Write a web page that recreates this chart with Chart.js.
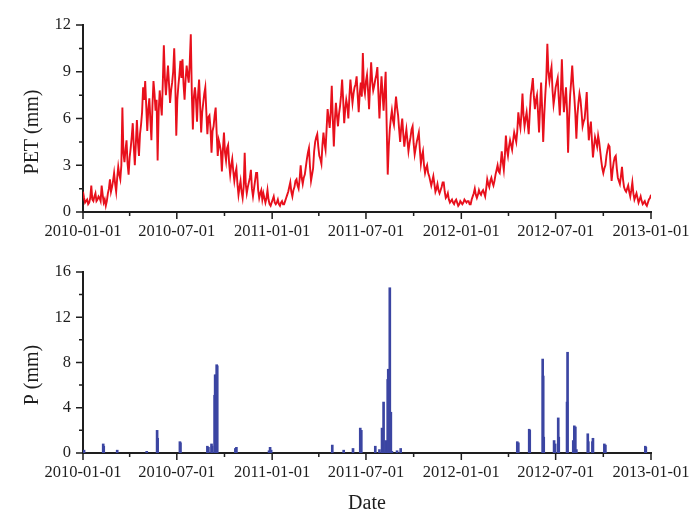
<!DOCTYPE html>
<html>
<head>
<meta charset="utf-8">
<script src="https://cdn.jsdelivr.net/npm/chart.js@4.4.1/dist/chart.umd.min.js"></script>
<style>
  html, body { margin: 0; padding: 0; background: #ffffff; }
  #wrap { position: relative; width: 694px; height: 516px; }
  #petBox { position: absolute; left: 0; top: 0; width: 694px; height: 250px; }
  #pBox { position: absolute; left: 0; top: 250px; width: 694px; height: 266px; }
</style>
</head>
<body>
<div id="wrap">
  <div id="petBox"><canvas id="petChart" width="694" height="250"></canvas></div>
  <div id="pBox"><canvas id="pChart" width="694" height="266"></canvas></div>
</div>
<script>
// ---- data -------------------------------------------------------------
const startDate = '2010-01-01';
const petStepDays = 2;          // PET sampled every 2 days from startDate
const petValues = [
  1.3, 0.9, 0.6, 0.7, 0.8, 0.5, 0.6, 0.9, 1.7, 0.8,
  0.7, 1.0, 1.2, 0.7, 0.8, 1.0, 0.9, 0.7, 1.7, 1.1,
  0.6, 0.8, 0.4, 0.7, 1.2, 1.5, 2.1, 1.3, 1.6, 2.0,
  2.5, 1.8, 1.3, 2.2, 2.9, 2.4, 2.1, 3.0, 6.7, 3.8,
  3.2, 4.0, 4.6, 3.1, 2.4, 3.5, 4.1, 4.8, 5.7, 4.2,
  3.0, 4.4, 5.9, 4.5, 3.6, 5.0, 5.6, 6.4, 8.0, 7.2,
  8.4, 6.8, 5.2, 6.6, 7.3, 5.9, 4.6, 6.8, 8.4, 7.6,
  6.5, 7.2, 3.3, 6.4, 7.8, 7.0, 6.2, 8.3, 10.7, 8.6,
  7.5, 8.5, 9.4, 8.2, 7.0, 7.8, 8.3, 9.0, 10.5, 8.4,
  4.9, 7.2, 8.1, 8.8, 9.7, 8.6, 9.8, 8.2, 7.2, 8.5,
  9.4, 8.8, 8.3, 9.6, 11.4, 7.6, 5.3, 7.4, 8.0, 7.2,
  5.8, 7.5, 8.5, 6.9, 5.1, 6.4, 7.0, 7.6, 8.0, 6.4,
  5.0, 6.1, 6.2, 5.4, 3.8, 5.2, 5.5, 6.2, 6.7, 5.0,
  3.6, 4.6, 4.3, 3.9, 2.6, 4.0, 5.1, 3.8, 3.3, 4.1,
  4.3, 3.1, 2.4, 3.0, 3.4, 2.6, 2.0, 2.5, 2.8, 1.8,
  1.1, 1.6, 2.0, 1.3, 0.9, 1.6, 3.8, 1.8, 1.2, 1.6,
  1.9, 2.2, 2.7, 1.5, 1.0, 1.5, 2.0, 2.5, 2.5, 1.4,
  0.9, 1.2, 1.4, 0.8, 1.2, 0.9, 0.6, 0.9, 1.4, 0.8,
  0.5, 0.4, 0.6, 0.8, 1.0, 0.6, 0.5, 0.6, 0.8, 0.5,
  0.4, 0.6, 0.7, 0.5, 0.5, 0.7, 0.9, 1.1, 1.3, 1.6,
  1.9, 1.3, 1.0, 1.4, 1.6, 2.0, 2.1, 1.7, 1.5, 2.1,
  3.0, 2.2, 1.8, 2.2, 2.4, 2.9, 3.4, 3.8, 4.1, 2.9,
  2.0, 2.4, 2.8, 3.9, 4.5, 4.8, 5.0, 4.2, 3.6, 3.4,
  3.1, 4.3, 5.1, 4.4, 4.0, 5.3, 6.6, 6.0, 5.4, 6.4,
  8.1, 6.0, 4.2, 5.9, 7.0, 6.2, 5.5, 6.3, 6.8, 7.5,
  8.5, 7.2, 5.7, 6.6, 7.2, 6.8, 6.0, 7.4, 8.5, 7.7,
  7.0, 7.6, 8.0, 8.2, 8.7, 7.5, 6.4, 7.6, 8.3, 7.4,
  10.2, 8.0, 7.6, 8.4, 8.8, 7.8, 6.6, 8.2, 9.6, 8.4,
  7.8, 8.1, 8.5, 8.8, 9.3, 7.6, 6.0, 7.5, 8.7, 7.6,
  6.5, 7.8, 9.0, 5.5, 2.4, 4.2, 5.3, 6.0, 6.5, 5.9,
  5.6, 6.6, 7.4, 6.7, 6.2, 5.3, 4.5, 5.4, 6.0, 5.0,
  4.2, 4.8, 5.3, 4.6, 3.9, 4.4, 4.8, 5.3, 5.5, 4.4,
  3.7, 4.1, 4.5, 4.8, 5.1, 4.0, 3.1, 3.6, 3.9, 3.0,
  2.5, 2.8, 3.0, 2.5, 2.3, 2.0, 1.7, 2.0, 2.3, 1.8,
  1.3, 1.5, 1.8, 1.4, 1.2, 1.4, 1.6, 1.9, 1.9, 1.3,
  0.9, 1.0, 1.2, 0.8, 0.6, 0.7, 0.8, 0.6, 0.5, 0.7,
  0.8, 0.6, 0.4, 0.5, 0.7, 0.6, 0.5, 0.6, 0.8, 0.7,
  0.6, 0.7, 0.7, 0.5, 0.5, 0.8, 1.0, 1.2, 1.5, 1.1,
  0.9, 1.1, 1.4, 1.2, 1.1, 1.3, 1.4, 1.2, 1.0, 1.5,
  2.1, 1.8, 1.6, 2.0, 2.2, 1.9, 1.7, 2.0, 2.4, 2.7,
  3.0, 2.6, 2.5, 3.1, 3.9, 3.2, 2.7, 3.6, 4.9, 4.0,
  3.6, 4.2, 4.6, 4.3, 4.0, 4.6, 5.1, 4.8, 4.5, 5.2,
  6.4, 5.8, 5.4, 6.3, 7.6, 6.2, 5.5, 6.0, 6.4, 5.7,
  5.0, 6.3, 7.5, 8.0, 8.6, 7.4, 6.6, 7.2, 7.5, 6.4,
  5.1, 6.8, 8.3, 6.6, 4.5, 6.2, 7.5, 8.6, 10.8, 9.0,
  8.4, 8.9, 9.3, 7.8, 6.9, 7.4, 8.0, 8.3, 8.6, 7.3,
  6.2, 7.6, 9.8, 7.8, 6.4, 7.2, 8.0, 6.5, 3.8, 6.0,
  7.5, 8.4, 9.4, 8.2, 7.4, 6.3, 4.7, 6.2, 7.0, 7.6,
  7.2, 6.4, 5.5, 5.8, 6.0, 6.8, 7.7, 5.9, 4.6, 5.3,
  5.8, 4.6, 3.5, 4.2, 4.8, 4.5, 4.2, 4.9, 4.5, 3.9,
  3.3, 2.8, 2.5, 2.8, 3.0, 3.6, 4.0, 4.3, 4.2, 3.0,
  2.0, 2.7, 3.2, 3.5, 3.6, 2.8, 2.2, 2.0, 1.8, 2.3,
  2.9, 2.1, 1.6, 1.4, 1.3, 1.5, 1.7, 1.3, 1.0, 1.4,
  1.9, 1.2, 0.8, 1.0, 1.2, 0.9, 0.6, 0.8, 1.0, 0.7,
  0.5, 0.6, 0.7, 0.5, 0.4, 0.6, 0.8, 0.9, 1.1
];

// precipitation events: day offset from startDate and depth (mm)
const pDays = [
  2, 39, 40, 66, 123, 143, 144, 187, 188, 240, 242, 248, 249, 254, 255, 256, 258, 259, 294, 296,
  359, 361, 363, 481, 503, 521, 535, 537, 564, 572, 577, 580, 584, 588, 589, 592, 594, 596, 606, 613,
  838, 840, 861, 862, 887, 888, 889, 909, 911, 917, 918, 934, 935, 946, 948, 950, 952, 974, 975, 983,
  984, 1006, 1008, 1085, 1086
];
const pValues = [
  0.25, 0.8, 0.6, 0.25, 0.15, 2.0, 1.3, 1.0, 0.9, 0.6, 0.5, 0.8, 0.6, 5.1, 6.9, 6.9, 7.8, 7.7, 0.4, 0.5,
  0.2, 0.5, 0.25, 0.7, 0.25, 0.4, 2.2, 2.0, 0.6, 0.3, 2.2, 4.5, 1.1, 6.5, 7.4, 14.6, 3.6, 0.15, 0.2, 0.4,
  1.0, 0.9, 2.1, 2.0, 8.3, 6.8, 1.4, 1.1, 0.8, 3.1, 1.4, 4.5, 8.9, 1.1, 2.4, 2.3, 0.3, 1.7, 1.0, 1.0,
  1.3, 0.8, 0.7, 0.6, 0.5
];

// date axis: labelled ticks and quarter-year minor ticks
const dateLabels = ['2010-01-01', '2010-07-01', '2011-01-01', '2011-07-01', '2012-01-01', '2012-07-01', '2013-01-01'];
const dateMinor = ['2010-04-01', '2010-10-01', '2011-04-01', '2011-10-01', '2012-04-01', '2012-10-01'];

const petTicks = [0, 3, 6, 9, 12];
const petMinor = [1.5, 4.5, 7.5, 10.5];
const pTicks = [0, 4, 8, 12, 16];
const pMinor = [2, 6, 10, 14];

// ---- helpers ----------------------------------------------------------
const INK = '#1e1e1e';
const SERIF = "'Liberation Serif', 'Times New Roman', serif";

function dayOf(str) {
  const [y, m, d] = str.split('-').map(Number);
  const [y0, m0, d0] = startDate.split('-').map(Number);
  return Math.round((Date.UTC(y, m - 1, d) - Date.UTC(y0, m0 - 1, d0)) / 86400000);
}
const labelDays = dateLabels.map(dayOf);
const minorDays = dateMinor.map(dayOf);
const labelByDay = {};
labelDays.forEach((d, i) => { labelByDay[d] = dateLabels[i]; });
const dayMax = labelDays[labelDays.length - 1];

const petPoints = petValues.map((v, i) => ({ x: i * petStepDays, y: v }));
const pPoints = pDays.map((d, i) => ({ x: d, y: pValues[i] }));

// outward tick marks (long at labels, short in between) and rotated y title
const axisMarks = {
  id: 'axisMarks',
  afterDraw(chart, args, o) {
    const { ctx, scales: { x, y } } = chart;
    const yb = y.getPixelForValue(0);
    const xl = x.getPixelForValue(0);
    ctx.save();
    ctx.strokeStyle = INK;
    ctx.lineWidth = 1.5;
    ctx.beginPath();
    labelDays.forEach(d => { const px = x.getPixelForValue(d); ctx.moveTo(px, yb); ctx.lineTo(px, yb + 7); });
    minorDays.forEach(d => { const px = x.getPixelForValue(d); ctx.moveTo(px, yb); ctx.lineTo(px, yb + 4); });
    o.major.forEach(v => { const py = y.getPixelForValue(v); ctx.moveTo(xl, py); ctx.lineTo(xl - 7, py); });
    o.minor.forEach(v => { const py = y.getPixelForValue(v); ctx.moveTo(xl, py); ctx.lineTo(xl - 4, py); });
    ctx.stroke();
    ctx.fillStyle = INK;
    ctx.font = '20px ' + SERIF;
    ctx.textAlign = 'center';
    ctx.textBaseline = 'middle';
    ctx.translate(o.titleX, o.titleY);
    ctx.rotate(-Math.PI / 2);
    ctx.fillText(o.title, 0, 0);
    ctx.restore();
  }
};

function baseScales(yMax, yStep, xHeight, xTitle) {
  return {
    x: {
      type: 'linear',
      min: 0,
      max: dayMax,
      offset: false,
      grid: { display: false, drawTicks: false, offset: false },
      border: { display: true, color: INK, width: 2 },
      afterBuildTicks: s => { s.ticks = labelDays.map(v => ({ value: v })); },
      afterFit: s => { s.height = xHeight; s.paddingLeft = 0; s.paddingRight = 0; },
      ticks: {
        autoSkip: false,
        maxRotation: 0,
        padding: 10,
        color: INK,
        font: { family: SERIF, size: 16.5 },
        callback: v => labelByDay[v] || ''
      },
      title: xTitle ? {
        display: true,
        text: xTitle,
        color: INK,
        font: { family: SERIF, size: 20 },
        padding: { top: 0, bottom: 0 }
      } : { display: false }
    },
    y: {
      min: 0,
      max: yMax,
      grid: { display: false, drawTicks: false },
      border: { display: true, color: INK, width: 2 },
      afterFit: s => { s.width = 83; },
      ticks: {
        stepSize: yStep,
        padding: 12,
        color: INK,
        font: { family: SERIF, size: 16.5 }
      }
    }
  };
}

Chart.defaults.devicePixelRatio = 1;

new Chart(document.getElementById('petChart'), {
  type: 'line',
  data: {
    datasets: [{
      label: 'PET',
      data: petPoints,
      borderColor: '#e8101c',
      borderWidth: 1.9,
      pointRadius: 0,
      tension: 0,
      fill: false
    }]
  },
  options: {
    responsive: false,
    animation: false,
    layout: { padding: { left: 0, top: 25, right: 43, bottom: 0 } },
    scales: baseScales(12, 3, 38, null),
    plugins: {
      legend: { display: false },
      tooltip: { enabled: false },
      axisMarks: { major: petTicks, minor: petMinor, title: 'PET (mm)', titleX: 33, titleY: 132 }
    }
  },
  plugins: [axisMarks]
});

new Chart(document.getElementById('pChart'), {
  type: 'bar',
  data: {
    datasets: [{
      label: 'P',
      data: pPoints,
      backgroundColor: '#3b45a2',
      borderWidth: 0,
      barThickness: 2
    }]
  },
  options: {
    responsive: false,
    animation: false,
    layout: { padding: { left: 0, top: 16, right: 43, bottom: 0 } },
    scales: baseScales(16, 4, 63, 'Date'),
    plugins: {
      legend: { display: false },
      tooltip: { enabled: false },
      axisMarks: { major: pTicks, minor: pMinor, title: 'P (mm)', titleX: 33, titleY: 125 }
    }
  },
  plugins: [axisMarks]
});
</script>
</body>
</html>
